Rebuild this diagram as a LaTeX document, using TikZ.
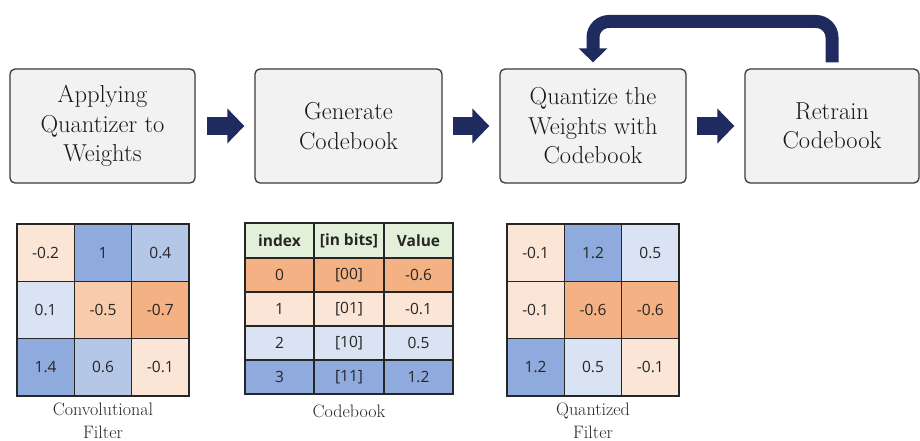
\documentclass[tikz,border=0pt]{standalone}
\usepackage{fontspec}
\newfontfamily\cellfont{Open Sans}
\usetikzlibrary{arrows.meta}
\definecolor{navy}{RGB}{31,43,94}
\definecolor{boxfill}{HTML}{F2F2F2}
\definecolor{boxdraw}{HTML}{3A3A3A}
\definecolor{pk}{HTML}{FBE5D6}
\definecolor{pe}{HTML}{F8CBAD}
\definecolor{og}{HTML}{F4B183}
\definecolor{lb}{HTML}{DAE3F3}
\definecolor{mb}{HTML}{B4C7E7}
\definecolor{db}{HTML}{8FAADC}
\definecolor{gr}{HTML}{E2F0D9}
\tikzset{
  stepbox/.style={draw=boxdraw, line width=1.3pt, fill=boxfill, rounded corners=5pt,
    align=center, inner sep=0pt, text=black!90, font=\fontsize{24.5}{29.5}\selectfont},
  blockarrow/.style={draw=navy, line width=18pt, line cap=butt,
    -{Triangle[length=17pt,width=34pt]}},
  looparrow/.style={draw=navy, line width=13pt, line cap=butt, rounded corners=16pt,
    -{Triangle[length=14pt,width=28pt]}},
  cell/.style={draw=black!85, line width=1.2pt, inner sep=0pt,
    font=\cellfont\fontsize{15.5}{18}\selectfont, text=black!85},
  hcell/.style={cell, fill=gr, minimum width=#1, minimum height=35pt,
    font=\cellfont\fontsize{15.5}{18}\selectfont\bfseries},
  sq/.style={cell, minimum width=57.33pt, minimum height=57.33pt},
  lab/.style={align=center, inner sep=0pt, font=\fontsize{18}{23}\selectfont, text=black!85}
}
\begin{document}
\begin{tikzpicture}[x=1pt,y=-1pt]
\useasboundingbox (0,0) rectangle (920,441);
% process boxes
\node[stepbox, minimum width=185pt, minimum height=114pt] (b1) at (102.5,126) {Applying\\Quantizer to\\Weights};
\node[stepbox, minimum width=187pt, minimum height=114pt] (b2) at (348.5,126) {Generate\\Codebook};
\node[stepbox, minimum width=186pt, minimum height=114pt] (b3) at (593,126) {Quantize the\\Weights with\\Codebook};
\node[stepbox, minimum width=174pt, minimum height=114pt] (b4) at (832,126) {Retrain\\Codebook};
% block arrows
\draw[blockarrow] ([xshift=11pt]b1.east) -- ([xshift=-10pt]b2.west);
\draw[blockarrow] ([xshift=10pt]b2.east) -- ([xshift=-10pt]b3.west);
\draw[blockarrow] ([xshift=10pt]b3.east) -- ([xshift=-10pt]b4.west);
% loop arrow
\coordinate (top) at (0,21.5);
\draw[looparrow] ([yshift=6pt]b4.north) -- (b4.north |- top) -- (b3.north |- top) -- ([yshift=6pt]b3.north);
% convolutional filter
\foreach \v/\c [count=\i from 0] in {-0.2/pk,1/db,0.4/mb,0.1/lb,-0.5/pe,-0.7/og,1.4/db,0.6/mb,-0.1/pk} {
  \pgfmathtruncatemacro\r{div(\i,3)}
  \pgfmathtruncatemacro\k{mod(\i,3)}
  \node[sq, fill=\c] (cf\i) at ({17+57.33*(\k+0.5)},{224+57.33*(\r+0.5)}) {\v};
}
% quantized filter
\foreach \v/\c [count=\i from 0] in {-0.1/pk,1.2/db,0.5/lb,-0.1/pk,-0.6/og,-0.6/og,1.2/db,0.5/lb,-0.1/pk} {
  \pgfmathtruncatemacro\r{div(\i,3)}
  \pgfmathtruncatemacro\k{mod(\i,3)}
  \node[sq, fill=\c] (qf\i) at ({507+57.33*(\k+0.5)},{224+57.33*(\r+0.5)}) {\v};
}
% codebook
\node[hcell=69pt] (h1) at (279.5,240.5) {index};
\node[hcell=70pt] (h2) at (349,240.5) {[in bits]};
\node[hcell=69pt] (h3) at (418.5,240.5) {Value};
\foreach \a/\b/\v/\c [count=\i from 0] in {0/{[00]}/-0.6/og,1/{[01]}/-0.1/pk,2/{[10]}/0.5/lb,3/{[11]}/1.2/db} {
  \node[cell, fill=\c, minimum width=69pt, minimum height=34pt] (ca\i) at (279.5,{275+34*\i}) {\a};
  \node[cell, fill=\c, minimum width=70pt, minimum height=34pt] (cb\i) at (349,{275+34*\i}) {\b};
  \node[cell, fill=\c, minimum width=69pt, minimum height=34pt] (cv\i) at (418.5,{275+34*\i}) {\v};
}
% labels
\node[lab] (l1) at (103,421) {Convolutional\\Filter};
\node[lab] (l2) at (349,411) {Codebook};
\node[lab] (l3) at (593,421) {Quantized\\Filter};
\end{tikzpicture}
\end{document}
